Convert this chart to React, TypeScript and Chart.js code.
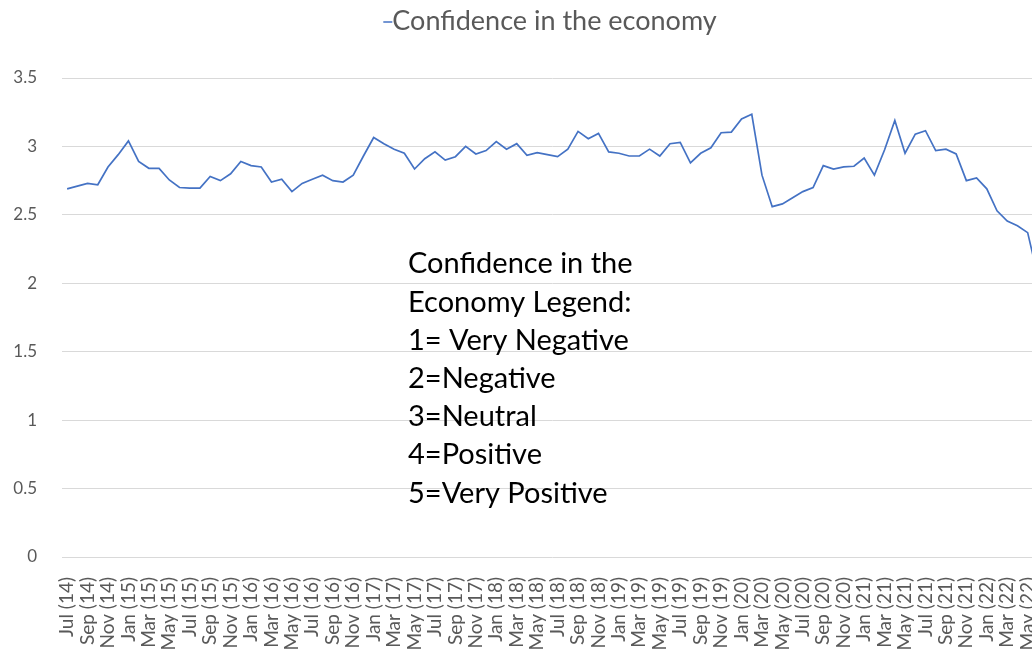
import React, { useEffect, useRef } from "react";
import { Chart, registerables } from "chart.js";

Chart.register(...registerables);

const seriesName = "Confidence in the economy";

const monthLabels = [
  "Jul (14)", "Aug (14)", "Sep (14)", "Oct (14)", "Nov (14)", "Dec (14)",
  "Jan (15)", "Feb (15)", "Mar (15)", "Apr (15)", "May (15)", "Jun (15)", "Jul (15)", "Aug (15)", "Sep (15)", "Oct (15)", "Nov (15)", "Dec (15)",
  "Jan (16)", "Feb (16)", "Mar (16)", "Apr (16)", "May (16)", "Jun (16)", "Jul (16)", "Aug (16)", "Sep (16)", "Oct (16)", "Nov (16)", "Dec (16)",
  "Jan (17)", "Feb (17)", "Mar (17)", "Apr (17)", "May (17)", "Jun (17)", "Jul (17)", "Aug (17)", "Sep (17)", "Oct (17)", "Nov (17)", "Dec (17)",
  "Jan (18)", "Feb (18)", "Mar (18)", "Apr (18)", "May (18)", "Jun (18)", "Jul (18)", "Aug (18)", "Sep (18)", "Oct (18)", "Nov (18)", "Dec (18)",
  "Jan (19)", "Feb (19)", "Mar (19)", "Apr (19)", "May (19)", "Jun (19)", "Jul (19)", "Aug (19)", "Sep (19)", "Oct (19)", "Nov (19)", "Dec (19)",
  "Jan (20)", "Feb (20)", "Mar (20)", "Apr (20)", "May (20)", "Jun (20)", "Jul (20)", "Aug (20)", "Sep (20)", "Oct (20)", "Nov (20)", "Dec (20)",
  "Jan (21)", "Feb (21)", "Mar (21)", "Apr (21)", "May (21)", "Jun (21)", "Jul (21)", "Aug (21)", "Sep (21)", "Oct (21)", "Nov (21)", "Dec (21)",
  "Jan (22)", "Feb (22)", "Mar (22)", "Apr (22)", "May (22)", "Jun (22)",
];

const confidenceValues = [
  2.69, 2.71, 2.73, 2.72, 2.85, 2.94,
  3.04, 2.89, 2.84, 2.84, 2.755, 2.7, 2.695, 2.695, 2.78, 2.75, 2.8, 2.89,
  2.86, 2.85, 2.74, 2.76, 2.67, 2.73, 2.76, 2.79, 2.75, 2.74, 2.79, 2.93,
  3.065, 3.02, 2.98, 2.95, 2.835, 2.91, 2.96, 2.9, 2.925, 3.0, 2.945, 2.97,
  3.035, 2.98, 3.02, 2.935, 2.955, 2.94, 2.925, 2.98, 3.11, 3.056, 3.095, 2.96,
  2.95, 2.93, 2.93, 2.98, 2.93, 3.02, 3.03, 2.88, 2.95, 2.99, 3.1, 3.105,
  3.2, 3.235, 2.79, 2.56, 2.58, 2.625, 2.67, 2.7, 2.86, 2.835, 2.85, 2.855,
  2.915, 2.79, 2.976, 3.19, 2.95, 3.09, 3.115, 2.97, 2.98, 2.945, 2.75, 2.77,
  2.69, 2.53, 2.455, 2.42, 2.37, 2.05,
];

const noteLines = [
  "Confidence in the",
  "Economy Legend:",
  "1= Very Negative",
  "2=Negative",
  "3=Neutral",
  "4=Positive",
  "5=Very Positive",
];

const yMin = 0;
const yMax = 3.5;
const yStep = 0.5;

const LINE_COLOR = "#4472C4";
const TEXT_GRAY = "#595959";
const FONT = "Lato, 'Open Sans', sans-serif";

const legendPlugin = {
  id: "topLegend",
  afterDraw(chart: any) {
    const ctx = chart.ctx;
    ctx.save();
    ctx.font = `27px ${FONT}`;
    const tw = ctx.measureText(seriesName).width;
    const mark = 9;
    const total = mark + tw;
    const cx = 550;
    const x0 = cx - total / 2;
    const y = 21;
    ctx.strokeStyle = LINE_COLOR;
    ctx.lineWidth = 1.5;
    ctx.beginPath();
    ctx.moveTo(x0, y + 1);
    ctx.lineTo(x0 + mark, y + 1);
    ctx.stroke();
    ctx.fillStyle = TEXT_GRAY;
    ctx.textBaseline = "middle";
    ctx.textAlign = "left";
    ctx.fillText(seriesName, x0 + mark, y);
    ctx.restore();
  },
};

const notePlugin = {
  id: "noteBox",
  afterDraw(chart: any) {
    const ctx = chart.ctx;
    ctx.save();
    ctx.font = `29px ${FONT}`;
    ctx.fillStyle = "#000000";
    ctx.textBaseline = "middle";
    ctx.textAlign = "left";
    noteLines.forEach((line, i) => {
      ctx.fillText(line, 408, 264 + i * 38.2);
    });
    ctx.restore();
  },
};

export default function App() {
  const canvasRef = useRef<HTMLCanvasElement | null>(null);

  useEffect(() => {
    if (!canvasRef.current) return;
    const chart = new Chart(canvasRef.current, {
      type: "line",
      data: {
        labels: monthLabels,
        datasets: [
          {
            label: seriesName,
            data: confidenceValues,
            borderColor: LINE_COLOR,
            backgroundColor: LINE_COLOR,
            borderWidth: 1.7,
            pointRadius: 0,
            pointHoverRadius: 0,
            tension: 0,
            fill: false,
          },
        ],
      },
      options: {
        responsive: false,
        animation: false,
        devicePixelRatio: 1,
        layout: { padding: { top: 78, left: 0, right: 57, bottom: 0 } },
        plugins: {
          legend: { display: false },
          tooltip: { enabled: false },
          title: { display: false },
        },
        scales: {
          x: {
            type: "category",
            offset: true,
            grid: { display: false, drawTicks: false },
            border: { display: false },
            ticks: {
              autoSkip: false,
              maxRotation: 90,
              minRotation: 90,
              padding: 20,
              color: TEXT_GRAY,
              font: { family: FONT, size: 19 },
              callback: (_v: any, i: number) => (i % 2 === 0 ? monthLabels[i] : ""),
            },
            afterFit: (scale: any) => {
              scale.height = 143;
            },
          },
          y: {
            min: yMin,
            max: yMax,
            grid: { color: "#d9d9d9", lineWidth: 1, drawTicks: false },
            border: { display: false },
            ticks: {
              stepSize: yStep,
              padding: 25,
              color: TEXT_GRAY,
              font: { family: FONT, size: 17 },
              callback: (v: any) => String(v),
            },
            afterFit: (scale: any) => {
              scale.width = 62;
            },
          },
        },
      },
      plugins: [legendPlugin, notePlugin],
    });
    return () => chart.destroy();
  }, []);

  return (
    <div
      style={{
        position: "fixed",
        left: 0,
        top: 0,
        width: 1032,
        height: 652,
        overflow: "hidden",
        background: "#ffffff",
      }}
    >
      <canvas
        ref={canvasRef}
        width={1100}
        height={700}
        style={{ width: 1100, height: 700, display: "block" }}
      />
    </div>
  );
}
